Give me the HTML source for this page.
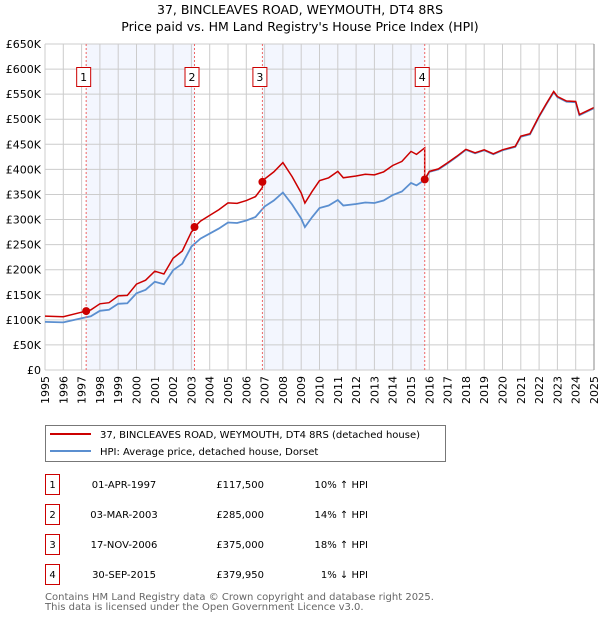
<!DOCTYPE html>
<html><head><meta charset="utf-8"><style>
body{margin:0;background:#fff;font-family:"DejaVu Sans","Liberation Sans",sans-serif;}
svg{display:block}
</style></head><body>
<svg id="c" width="600" height="620" xmlns="http://www.w3.org/2000/svg" font-family="DejaVu Sans, Liberation Sans, sans-serif">
<text x="300" y="14" text-anchor="middle" font-size="12.5" fill="#000">37, BINCLEAVES ROAD, WEYMOUTH, DT4 8RS</text>
<text x="300" y="31" text-anchor="middle" font-size="12.5" fill="#000">Price paid vs. HM Land Registry's House Price Index (HPI)</text>
<g id="plot"></g>
<g>
<rect x="45.5" y="425.5" width="400" height="36" fill="#fff" stroke="#777"/>
<line x1="50" y1="434" x2="91" y2="434" stroke="#cc0000" stroke-width="2"/>
<text x="100" y="438" font-size="10">37, BINCLEAVES ROAD, WEYMOUTH, DT4 8RS (detached house)</text>
<line x1="50" y1="451" x2="91" y2="451" stroke="#5b8fd0" stroke-width="2"/>
<text x="100" y="455" font-size="10">HPI: Average price, detached house, Dorset</text>
</g>
<g id="tbl" font-size="10"></g>
<text x="45" y="600" font-size="10" fill="#666">Contains HM Land Registry data © Crown copyright and database right 2025.</text>
<text x="45" y="610" font-size="10" fill="#666">This data is licensed under the Open Government Licence v3.0.</text>
</svg>
<script>
const hpiYears=[1995,1996,1997,1997.5,1998,1998.5,1999,1999.5,2000,2000.5,2001,2001.5,2002,2002.5,2003,2003.5,2004,2004.5,2005,2005.5,2006,2006.5,2007,2007.5,2008,2008.5,2009,2009.2,2009.6,2010,2010.5,2011,2011.3,2012,2012.5,2013,2013.5,2014,2014.5,2015,2015.3,2015.75,2016,2016.5,2017,2017.5,2018,2018.5,2019,2019.5,2020,2020.7,2021,2021.5,2022,2022.4,2022.8,2023,2023.5,2024,2024.2,2024.6,2025];
const hpiValues=[96,95,103,107,118,120,132,133,153,160,176,171,199,212,246,262,272,282,294,293,298,305,326,338,354,330,302,285,305,323,328,339,328,331,334,333,338,349,356,373,368,379,395,400,412,425,439,432,438,430,438,445,465,470,505,530,554,544,535,534,508,515,522];
const saleYears=[1997.25,2003.17,2006.88,2015.75];
const salePrices=[117.5,285,375,379.95];
const saleDates=["01-APR-1997","03-MAR-2003","17-NOV-2006","30-SEP-2015"];
const salePriceLabels=["£117,500","£285,000","£375,000","£379,950"];
const saleDiffs=["10% ↑ HPI","14% ↑ HPI","18% ↑ HPI","1% ↓ HPI"];
const yTicks=[0,50,100,150,200,250,300,350,400,450,500,550,600,650];
const xTicks=[1995,1996,1997,1998,1999,2000,2001,2002,2003,2004,2005,2006,2007,2008,2009,2010,2011,2012,2013,2014,2015,2016,2017,2018,2019,2020,2021,2022,2023,2024,2025];

const X0=45,X1=594,Y0=370,Y1=44;
const xs=y=>X0+(y-1995)/30*(X1-X0);
const ys=v=>Y0-v/650*(Y0-Y1);
const NS="http://www.w3.org/2000/svg";
const plot=document.getElementById('plot');
function mk(tag,attrs,parent){const e=document.createElementNS(NS,tag);for(const k in attrs)e.setAttribute(k,attrs[k]);(parent||plot).appendChild(e);return e;}
function hpiAt(t){for(let i=0;i<hpiYears.length-1;i++){if(t<=hpiYears[i+1]){const f=(t-hpiYears[i])/(hpiYears[i+1]-hpiYears[i]);return hpiValues[i]+f*(hpiValues[i+1]-hpiValues[i]);}}return hpiValues[hpiValues.length-1];}

let bg=mk('rect',{x:X0,y:Y1,width:X1-X0,height:Y0-Y1,fill:'#fff'});


[[0,1],[2,3]].forEach(p=>{
 const r=mk('rect',{x:xs(saleYears[p[0]]),y:Y1,width:xs(saleYears[p[1]])-xs(saleYears[p[0]]),height:Y0-Y1,fill:'#f3f6fe'});
 
 
});
xTicks.forEach(t=>{
 const l=mk('line',{x1:xs(t),x2:xs(t),y1:Y1,y2:Y0,stroke:'#ccc','stroke-width':1});
 
 
 const tx=mk('text',{x:0,y:0,'font-size':11,'text-anchor':'end',transform:`translate(${xs(t)+4},${Y0+6}) rotate(-90)`});
 tx.textContent=t;
 
 
});
yTicks.forEach(v=>{
 const l=mk('line',{x1:X0,x2:X1,y1:ys(v),y2:ys(v),stroke:'#ccc','stroke-width':1});
 
 
 const tx=mk('text',{x:X0-4,y:ys(v)+4,'font-size':11,'text-anchor':'end'});
 tx.textContent=v===0?'£0':'£'+v+'K';
 
 
});
let d=hpiYears.map((y,i)=>(i?'L':'M')+xs(y).toFixed(1)+','+ys(hpiValues[i]).toFixed(1)).join('');
let hl=mk('path',{d:d,fill:'none',stroke:'#5b8fd0','stroke-width':1.8});


const factors=saleYears.map((t,i)=>salePrices[i]/hpiAt(t));
function fac(t){let f=factors[0];for(let i=0;i<saleYears.length;i++)if(t>=saleYears[i])f=factors[i];return f;}
let times=hpiYears.concat(saleYears).sort((a,b)=>a-b);
let pts=[];
times.forEach(t=>{
 const si=saleYears.indexOf(t);
 if(si>0){pts.push([t,hpiAt(t)*factors[si-1]]);}
 pts.push([t,hpiAt(t)*fac(t)]);
});
let rd=pts.map((p,i)=>(i?'L':'M')+xs(p[0]).toFixed(1)+','+ys(p[1]).toFixed(1)).join('');
let rl=mk('path',{d:rd,fill:'none',stroke:'#cc0000','stroke-width':1.5});


saleYears.forEach((t,i)=>{
 const l=mk('line',{x1:xs(t),x2:xs(t),y1:Y1,y2:Y0,stroke:'#e66','stroke-width':1,'stroke-dasharray':'2,2'});
 
 
 const c=mk('circle',{cx:xs(t),cy:ys(salePrices[i]),r:4,fill:'#cc0000'});
 
 
 const g=mk('g',{});
 
 
 mk('rect',{x:xs(t)-9.5,y:67.5,width:14,height:19,fill:'#fff',stroke:'#cc0000','stroke-width':1},g);
 const tx=mk('text',{x:xs(t)-2.5,y:81,'font-size':11,'text-anchor':'middle'},g);
 tx.textContent=i+1;
});
mk('line',{x1:X1,x2:X1,y1:Y1,y2:Y0,stroke:'#888','stroke-width':1});
const tbl=document.getElementById('tbl');
saleDates.forEach((s,i)=>{
 const y=484+i*30;
 const g=mk('g',{},tbl);
 
 
 mk('rect',{x:45.5,y:y-9.5,width:14,height:20,fill:'#fff',stroke:'#cc0000'},g);
 let t=mk('text',{x:52.5,y:y+4,'text-anchor':'middle'},g);t.textContent=i+1;
 t=mk('text',{x:124,y:y+4,'text-anchor':'middle'},g);t.textContent=s;
 t=mk('text',{x:264,y:y+4,'text-anchor':'end'},g);t.textContent=salePriceLabels[i];
 t=mk('text',{x:368,y:y+4,'text-anchor':'end'},g);t.textContent=saleDiffs[i];
});
</script>
</body></html>
